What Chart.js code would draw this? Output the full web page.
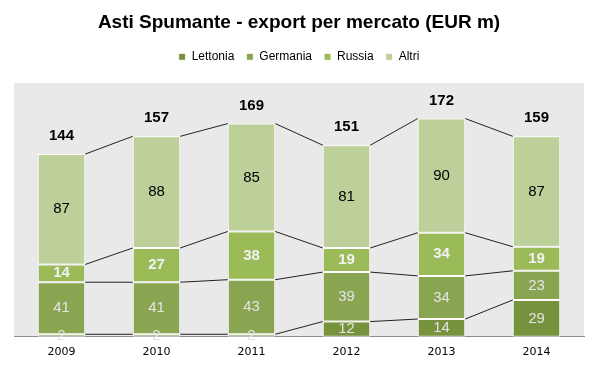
<!DOCTYPE html>
<html>
<head>
<meta charset="utf-8">
<script src="https://cdn.jsdelivr.net/npm/chart.js@4"></script>
<style>
  html, body { margin: 0; padding: 0; background: #fff; }
  #wrap { width: 599px; height: 370px; }
</style>
</head>
<body>
<div id="wrap"><canvas id="myChart" width="599" height="370"></canvas></div>
<script>
const years = ['2009', '2010', '2011', '2012', '2013', '2014'];
const lettonia = [2, 2, 2, 12, 14, 29];
const germania = [41, 41, 43, 39, 34, 23];
const russia = [14, 27, 38, 19, 34, 19];
const altri = [87, 88, 85, 81, 90, 87];
const totals = [144, 157, 169, 151, 172, 159];

const colors = ['#76923c', '#8aa552', '#9bbb59', '#bdd09a'];
const labelStyle = [
    { color: '#e4e4e4', weight: 'normal' }, // Lettonia
    { color: '#e4e4e4', weight: 'normal' }, // Germania
    { color: '#f2f2f2', weight: 'bold' },   // Russia
    { color: '#000000', weight: 'normal' }  // Altri
];

// gray plot background
const plotBg = {
    id: 'plotBg',
    beforeDraw(chart) {
        const { ctx, chartArea: a } = chart;
        ctx.save();
        ctx.fillStyle = '#e9e9e9';
        ctx.fillRect(a.left, a.top, a.right - a.left, a.bottom - a.top);
        ctx.restore();
    }
};

// lines joining the segment tops from bar to bar
const connectors = {
    id: 'connectors',
    afterDatasetsDraw(chart) {
        const ctx = chart.ctx;
        ctx.save();
        ctx.strokeStyle = '#222';
        ctx.lineWidth = 1;
        chart.data.datasets.forEach((ds, d) => {
            const bars = chart.getDatasetMeta(d).data;
            for (let i = 0; i < bars.length - 1; i++) {
                const a = bars[i], b = bars[i + 1];
                ctx.beginPath();
                ctx.moveTo(a.x + a.width / 2, a.y);
                ctx.lineTo(b.x - b.width / 2, b.y);
                ctx.stroke();
            }
        });
        ctx.restore();
    }
};

// values inside segments and totals above
const valueLabels = {
    id: 'valueLabels',
    afterDraw(chart) {
        const ctx = chart.ctx;
        ctx.save();
        ctx.textAlign = 'center';
        ctx.textBaseline = 'middle';
        chart.data.datasets.forEach((ds, d) => {
            const st = labelStyle[d];
            ctx.fillStyle = st.color;
            ctx.font = st.weight + ' 15px "Liberation Sans", Arial, sans-serif';
            chart.getDatasetMeta(d).data.forEach((bar, i) => {
                ctx.fillText(ds.data[i], bar.x, (bar.y + bar.base) / 2);
            });
        });
        const top = chart.getDatasetMeta(chart.data.datasets.length - 1).data;
        ctx.fillStyle = '#000';
        ctx.font = 'bold 15px "Liberation Sans", Arial, sans-serif';
        top.forEach((bar, i) => {
            ctx.fillText(totals[i], bar.x, bar.y - 18);
        });
        ctx.restore();
    }
};

const ctx = document.getElementById('myChart').getContext('2d');

new Chart(ctx, {
    type: 'bar',
    data: {
        labels: years,
        datasets: [
            { label: 'Lettonia', data: lettonia, backgroundColor: colors[0] },
            { label: 'Germania', data: germania, backgroundColor: colors[1] },
            { label: 'Russia', data: russia, backgroundColor: colors[2] },
            { label: 'Altri', data: altri, backgroundColor: colors[3] }
        ].map(ds => Object.assign(ds, {
            borderColor: '#ffffff',
            borderWidth: 1,
            borderSkipped: false,
            categoryPercentage: 1,
            barPercentage: 0.5
        }))
    },
    options: {
        responsive: false,
        animation: false,
        layout: { padding: { left: 14, right: 15, top: 0, bottom: 2 } },
        plugins: {
            title: {
                display: true,
                text: 'Asti Spumante - export per mercato (EUR m)',
                color: '#000',
                font: { family: '"Liberation Sans", Arial', size: 19, weight: 'bold' },
                padding: { top: 11, bottom: 5 }
            },
            legend: {
                display: true,
                position: 'top',
                labels: {
                    color: '#000',
                    boxWidth: 7,
                    boxHeight: 7,
                    padding: 12,
                    font: { family: '"Liberation Sans", Arial', size: 12 }
                }
            },
            // empty spacer between legend and plot
            subtitle: {
                display: true,
                text: ' ',
                weight: 500,
                font: { size: 1 },
                padding: { top: 0, bottom: 9 }
            },
            tooltip: { enabled: false }
        },
        scales: {
            x: {
                stacked: true,
                grid: { display: false, drawTicks: false },
                border: { display: true, color: '#8c8c8c', width: 1 },
                ticks: {
                    color: '#000',
                    padding: 9,
                    font: { family: '"DejaVu Sans", Verdana, sans-serif', size: 11 }
                }
            },
            y: {
                stacked: true,
                display: false,
                min: 0,
                max: 200
            }
        }
    },
    plugins: [plotBg, connectors, valueLabels]
});
</script>
</body>
</html>
